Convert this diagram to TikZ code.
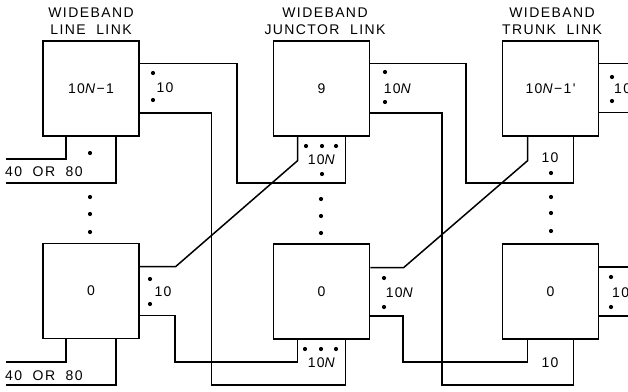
\documentclass[tikz,border=0pt]{standalone}
\usepackage{fontspec}
\usepackage{tikz}
\newfontfamily\lettering[LetterSpace=10,WordSpace=2]{Liberation Sans}
\tikzset{
  linkbox/.style={draw, line width=1.5pt, minimum width=96pt, minimum height=95pt, inner sep=0pt, font=\lettering\fontsize{14}{17}\selectfont},
  wire/.style={line width=1.5pt},
  lbl/.style={inner sep=0pt, font=\lettering\fontsize{14}{17}\selectfont},
  hdr/.style={inner sep=0pt, align=center, font=\lettering\fontsize{14}{17}\selectfont}
}

\begin{document}
\begin{tikzpicture}[x=1pt,y=-1pt]
  \useasboundingbox (0,0) rectangle (628,391);
  \clip (0,0) rectangle (628,391);
  % headers
  \node[hdr] (h1) at (91,21.5) {WIDEBAND\\LINE LINK};
  \node[hdr] (h2) at (325,21.5) {WIDEBAND\\JUNCTOR LINK};
  \node[hdr] (h3) at (552,21.5) {WIDEBAND\\TRUNK LINK};
  % link boxes
  \node[linkbox] (linetop) at (91,88.5) {10\textit{N}−1};
  \node[linkbox] (linebot) at (91,291) {0};
  \node[linkbox] (junctop) at (321.5,88.5) {9};
  \node[linkbox] (juncbot) at (321.5,291.5) {0};
  \node[linkbox] (trunktop) at (550.5,88.5) {10\textit{N}−1'};
  \node[linkbox] (trunkbot) at (550.5,291.5) {0};
  % free ends
  \coordinate (inA) at (6,159);
  \coordinate (inB) at (6,183);
  \coordinate (inC) at (6,362);
  \coordinate (inD) at (6,385);
  \coordinate (outA) at (632,63.5);
  \coordinate (outB) at (632,112.5);
  \coordinate (outC) at (632,267);
  \coordinate (outD) at (632,316);
  % inputs to line link
  \draw[wire] ([xshift=-25pt]linetop.south) |- (inA);
  \draw[wire] ([xshift=25pt]linetop.south) |- (inB);
  \draw[wire] ([xshift=-25pt]linebot.south) |- (inC);
  \draw[wire] ([xshift=25pt]linebot.south) |- (inD);
  \node[lbl, anchor=west] (in1) at (5,172) {40 OR 80};
  \node[lbl, anchor=west] (in2) at (5,376) {40 OR 80};
  % line link to junctor link
  \draw[wire] ([yshift=25pt]linetop.east) -| (237,183) -| ([xshift=24pt]junctop.south);
  \draw[wire] ([yshift=-24.5pt]linetop.east) -| (211.5,385) -| ([xshift=24pt]juncbot.south);
  \draw[wire] ([yshift=24.5pt]linebot.east) -- ++(36,0) -- ([xshift=-24pt,yshift=-24pt]junctop.south) -- ([xshift=-24pt]junctop.south);
  \draw[wire] ([yshift=-24.5pt]linebot.east) -| (175,362) -| ([xshift=-24pt]juncbot.south);
  % junctor link to trunk link
  \draw[wire] ([yshift=25pt]junctop.east) -| (466,183) -| ([xshift=23pt]trunktop.south);
  \draw[wire] ([yshift=-24.5pt]junctop.east) -| (442,385) -| ([xshift=23pt]trunkbot.south);
  \draw[wire] ([yshift=24pt]juncbot.east) -- ++(33.5,0) -- ([xshift=-23pt,yshift=-24pt]trunktop.south) -- ([xshift=-23pt]trunktop.south);
  \draw[wire] ([yshift=-24.5pt]juncbot.east) -| (403,362) -| ([xshift=-23pt]trunkbot.south);
  % trunk link outputs
  \draw[wire] ([yshift=25pt]trunktop.east) -- (outA);
  \draw[wire] ([yshift=-24pt]trunktop.east) -- (outB);
  \draw[wire] ([yshift=24.5pt]trunkbot.east) -- (outC);
  \draw[wire] ([yshift=-24.5pt]trunkbot.east) -- (outD);
  % group sizes
  \node[lbl] (n1) at (165,88) {10};
  \node[lbl] (n2) at (163,292) {10};
  \node[lbl] (n3) at (398,89) {10\textit{N}};
  \node[lbl] (n4) at (400,293) {10\textit{N}};
  \node[lbl] (n5) at (322,160) {10\textit{N}};
  \node[lbl] (n6) at (322,363) {10\textit{N}};
  \node[lbl] (n7) at (550,158) {10};
  \node[lbl] (n8) at (550,363) {10};
  \node[lbl, anchor=west] (n9) at (614,89) {10};
  \node[lbl, anchor=west] (n10) at (612,293) {10};
  % dots
  \foreach \p in {(153,73),(153,100),(150,279),(150,304),
                  (90,153),(90,197),(90,214),(90,232),
                  (306,146),(322,146),(336,146),(322,174),
                  (321,199),(321,216),(321,233),
                  (305,349),(321,349),(336,349),
                  (385,72),(385,102),(384,278),(384,307),
                  (551,173),(551,197),(551,213),(551,231),
                  (612,77),(612,101),(611,277),(611,307)}
    \fill \p circle (2.1);
\end{tikzpicture}
\end{document}
